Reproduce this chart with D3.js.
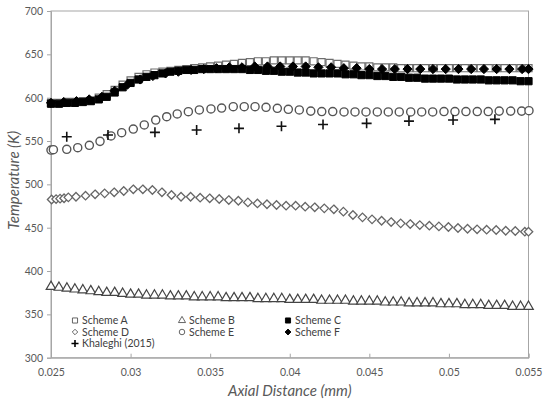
<!DOCTYPE html>
<html><head><meta charset="utf-8">
<script src="https://cdn.jsdelivr.net/npm/d3@7/dist/d3.min.js"></script>
<style>body{margin:0;background:#fff}svg{display:block}</style>
</head><body>
<svg id="chart" width="550" height="399"></svg>
<script>
// ---------- data ----------
const xTicks = [0.025, 0.03, 0.035, 0.04, 0.045, 0.05, 0.055];
const xTickLabels = ["0.025", "0.03", "0.035", "0.04", "0.045", "0.05", "0.055"];
const yTicks = [300, 350, 400, 450, 500, 550, 600, 650, 700];

const xGrid = [0.0250,0.0255,0.0260,0.0265,0.0270,0.0275,0.0280,0.0285,0.0290,0.0295,
  0.0300,0.0305,0.0310,0.0315,0.0320,0.0325,0.0330,0.0335,0.0340,0.0345,
  0.0350,0.0355,0.0360,0.0365,0.0370,0.0375,0.0380,0.0385,0.0390,0.0395,
  0.0400,0.0405,0.0410,0.0415,0.0420,0.0425,0.0430,0.0435,0.0440,0.0445,
  0.0450,0.0455,0.0460,0.0465,0.0470,0.0475,0.0480,0.0485,0.0490,0.0495,
  0.0500,0.0505,0.0510,0.0515,0.0520,0.0525,0.0530,0.0535,0.0540,0.0545,0.0550];

const schemeA = [594,594,595,595,596,597,600,604,609,615,
  620,624,627,629,630,631,632,633,634,635,
  636,637,638,639,640,641,642,642,643,643,
  643,643,643,642,641,640,639,638,637,636,
  636,635,635,635,634,634,634,634,634,634,
  634,634,634,634,634,634,634,634,634,634,634];

const schemeB = [382,381,380,379,378,377,376,375,375,374,
  373,373,372,372,372,371,371,371,370,370,
  370,370,369,369,369,369,368,368,368,368,
  367,367,367,367,366,366,366,366,365,365,
  365,365,364,364,364,363,363,363,363,362,
  362,362,361,361,361,360,360,360,359,359,359];

const schemeC = [593,593,594,594,595,596,598,601,606,612,
  617,621,624,626,628,630,631,632,632,633,
  633,633,633,633,633,632,632,631,631,630,
  630,629,629,628,628,628,628,627,627,626,
  626,625,625,624,624,623,623,622,622,622,
  622,621,621,621,621,620,620,620,620,619,619];

const xD = [0.02504,0.02532,0.02557,0.02582,0.02609,
  0.02657,0.02717,0.02777,0.02837,0.02897,0.02957,0.03017,0.03077,0.03137,0.03197,
  0.03257,0.03317,0.03377,0.03437,0.03497,0.03557,0.03617,0.03677,0.03737,0.03797,
  0.03857,0.03917,0.03977,0.04037,0.04097,0.04157,0.04217,0.04277,0.04337,0.04397,
  0.04457,0.04517,0.04577,0.04637,0.04697,0.04757,0.04817,0.04877,0.04937,0.04997,
  0.05057,0.05117,0.05177,0.05237,0.05297,0.05357,0.05417,0.05477,0.05500];
const schemeD = [482.5,483,483.5,484,485,
  485.7,486.9,488.5,489.6,490.8,492.3,494.3,494.3,493.5,490.8,
  487.7,485.7,485.7,484.6,483.9,483.1,481.9,481.1,479.2,478,
  477,476.2,475.4,475.4,474.2,473.5,472.3,471.2,468.5,464.6,
  461.9,459.6,458,456.5,455,454.2,453,452.3,451.5,450.8,
  449.6,448.8,448.1,447.7,447.3,446.5,446.2,445.4,445.4];

const xE = [0.02500,0.02515,0.02599,0.02668,0.02741,0.02808,0.02877,0.02944,0.03017,0.03086,
  0.03158,0.03227,0.03293,0.03363,0.03432,0.03505,0.03572,0.03645,0.03714,0.03782,
  0.03851,0.03922,0.03991,0.04060,0.04132,0.04201,0.04270,0.04341,0.04410,0.04479,
  0.04550,0.04619,0.04688,0.04760,0.04829,0.04898,0.04969,0.05038,0.05107,0.05178,
  0.05247,0.05316,0.05388,0.05457,0.05503];
const schemeE = [539.6,540,540.4,542.3,545,549.6,555.8,559.6,563.8,568.5,
  574.2,578,581.2,583.8,585.8,587,588,589.6,589.6,589.6,
  588.9,587.7,586.6,585.8,584.5,584,584,583.5,583.5,583.5,
  583.5,583.5,583.5,583.5,583.5,583.5,584,584,584,584,
  584,584.5,584.5,584.5,585];

const xF = [0.0250,0.0258,0.0266,0.0274,0.0282,0.0290,0.0298,0.0306,0.0314,0.0322,
  0.0330,0.0338,0.0346,0.0354,0.0362,0.0370,0.0378,0.0386,0.0394,0.0402,
  0.0410,0.0418,0.0426,0.0434,0.0442,0.0450,0.0458,0.0466,0.0474,0.0482,
  0.0490,0.0498,0.0506,0.0514,0.0522,0.0530,0.0538,0.0546,0.0550];
const schemeF = [594,595,596,598,601,608,615,621,625,628,
  630,632,633,634,635,635,636,636,636,636,
  636,635,635,634,634,633,633,633,633,633,
  633,633,633,633,633,633,633,633,633];

const xK = [0.02599,0.02858,0.03153,0.03415,0.03681,0.03948,0.04209,0.04483,0.04749,0.05026,0.05289];
const khaleghi = [555,557,560,562.7,564.6,567,569,570.4,573,574.2,575];

const legendLabels = ["Scheme A","Scheme B","Scheme C","Scheme D","Scheme E","Scheme F","Khaleghi (2015)"];

// ---------- layout ----------
const W = 550, H = 399;
const m = {left: 51, right: 21.5, top: 11, bottom: 41.3};
const svg = d3.select("#chart");
const x = d3.scaleLinear().domain([0.025, 0.055]).range([m.left, W - m.right]);
const y = d3.scaleLinear().domain([300, 700]).range([H - m.bottom, m.top]);
const axisColor = "#a6a6a6";
const textColor = "#595959";

// frame
svg.append("rect").attr("x", x(0.025)).attr("y", y(700))
  .attr("width", x(0.055) - x(0.025)).attr("height", y(300) - y(700))
  .attr("fill", "none").attr("stroke", axisColor).attr("stroke-width", 1);

// y axis
const yAxis = d3.axisLeft(y).tickValues(yTicks).tickSize(4).tickPadding(4);
const gy = svg.append("g").attr("transform", `translate(${m.left},0)`).call(yAxis);
gy.select(".domain").attr("stroke", axisColor);
gy.selectAll(".tick line").attr("stroke", axisColor);
gy.selectAll(".tick text").attr("fill", textColor)
  .style("font-family", "Lato, 'Open Sans', sans-serif").style("font-size", "10.5px");

// x axis (ticks inside)
const xAxis = d3.axisBottom(x).tickValues(xTicks).tickSize(-4).tickPadding(11)
  .tickFormat((d, i) => xTickLabels[i]);
const gx = svg.append("g").attr("transform", `translate(0,${H - m.bottom})`).call(xAxis);
gx.select(".domain").attr("stroke", axisColor);
gx.selectAll(".tick line").attr("stroke", axisColor);
gx.selectAll(".tick text").attr("fill", textColor)
  .style("font-family", "Lato, 'Open Sans', sans-serif").style("font-size", "10.5px");

// axis titles
svg.append("text").attr("x", (x(0.025) + x(0.055)) / 2).attr("y", 396)
  .attr("text-anchor", "middle").attr("fill", textColor)
  .style("font-family", "Lato, sans-serif").style("font-style", "italic").style("font-size", "15px")
  .text("Axial Distance (mm)");
svg.append("text").attr("transform", `translate(19,${(y(300)+y(700))/2 - 4}) rotate(-90)`)
  .attr("text-anchor", "middle").attr("fill", textColor)
  .style("font-family", "Lato, sans-serif").style("font-style", "italic").style("font-size", "15px")
  .text("Temperature (K)");

// ---------- markers ----------
const plusType = {draw(ctx, size) { const r = Math.sqrt(size) / 2;
  ctx.moveTo(-r, 0); ctx.lineTo(r, 0); ctx.moveTo(0, -r); ctx.lineTo(0, r); }};
const diamondType = {draw(ctx, size) { const r = Math.sqrt(size) / 2;
  ctx.moveTo(0, -r); ctx.lineTo(r, 0); ctx.lineTo(0, r); ctx.lineTo(-r, 0); ctx.closePath(); }};

const styles = {
  A: {type: d3.symbolSquare, size: 50, fill: "#fff", stroke: "#6e6e6e", sw: 1.2},
  B: {type: d3.symbolTriangle, size: 40, fill: "#fff", stroke: "#444", sw: 1.2},
  C: {type: d3.symbolSquare, size: 52, fill: "#000", stroke: "#000", sw: 1},
  D: {type: diamondType, size: 72, fill: "#fff", stroke: "#666", sw: 1.3},
  E: {type: d3.symbolCircle, size: 52, fill: "#fff", stroke: "#555", sw: 1.4},
  F: {type: diamondType, size: 85, fill: "#000", stroke: "#000", sw: 1},
  K: {type: plusType, size: 100, fill: "none", stroke: "#111", sw: 1.6}
};

function drawSeries(xs, ys, st, cls) {
  const sym = d3.symbol().type(st.type).size(st.size);
  svg.append("g").attr("class", cls).selectAll("path")
    .data(ys.map((v, i) => [xs[i], v]))
    .join("path")
    .attr("transform", d => `translate(${x(d[0])},${y(d[1])})`)
    .attr("d", sym)
    .attr("fill", st.fill).attr("stroke", st.stroke).attr("stroke-width", st.sw);
}

drawSeries(xGrid, schemeA, styles.A, "sA");
drawSeries(xGrid, schemeB, styles.B, "sB");
drawSeries(xGrid, schemeC, styles.C, "sC");
drawSeries(xD, schemeD, styles.D, "sD");
drawSeries(xE, schemeE, styles.E, "sE");
drawSeries(xF, schemeF, styles.F, "sF");
drawSeries(xK, khaleghi, styles.K, "sK");

// ---------- legend ----------
const legKeys = ["A","B","C","D","E","F","K"];
const colX = [75, 182, 288];
const rowY = [320.5, 332, 343.5];
const legendSizes = {A: 26, B: 22, C: 26, D: 30, E: 24, F: 36, K: 50};
const leg = svg.append("g");
legKeys.forEach((k, i) => {
  const cx = colX[i % 3], cy = rowY[Math.floor(i / 3)];
  const st = styles[k];
  leg.append("path").attr("transform", `translate(${cx},${cy})`)
    .attr("d", d3.symbol().type(st.type).size(legendSizes[k]))
    .attr("fill", st.fill).attr("stroke", k === "K" ? "#000" : (st.fill === "#000" ? "#000" : "#555"))
    .attr("stroke-width", k === "K" ? 1.6 : 0.9);
  leg.append("text").attr("x", cx + 7).attr("y", cy).attr("dy", "0.36em")
    .attr("fill", "#404040")
    .style("font-family", "Lato, 'Open Sans', sans-serif").style("font-size", "10.5px")
    .text(legendLabels[i]);
});
</script>
</body></html>
